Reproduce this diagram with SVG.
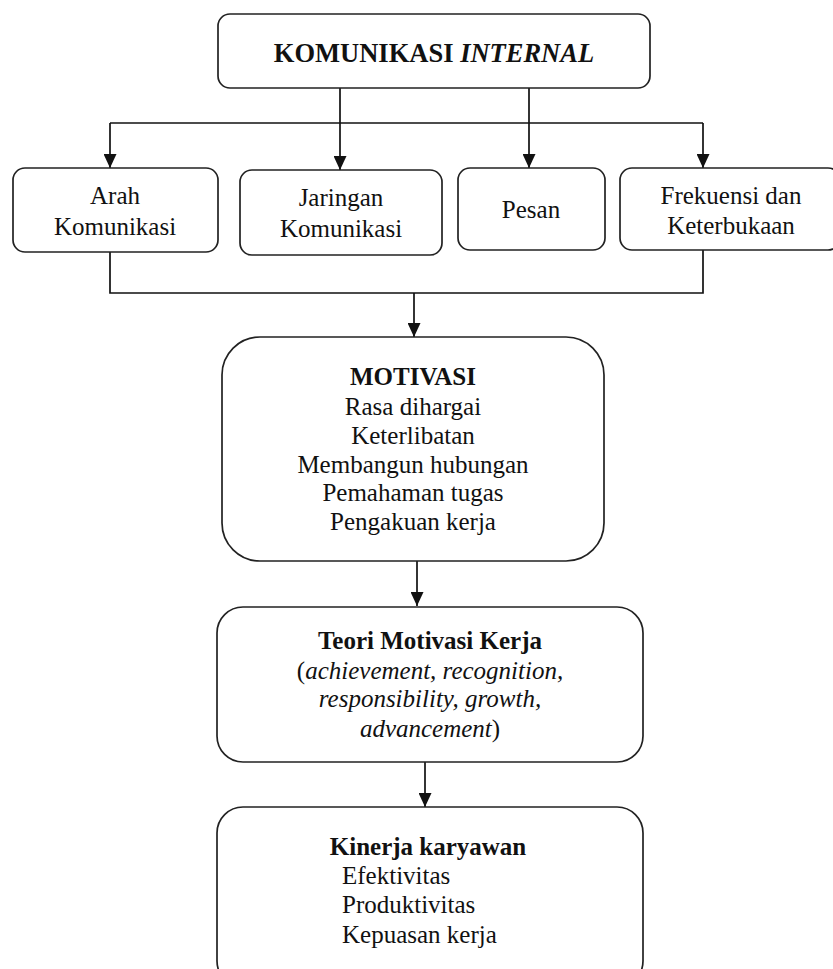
<svg xmlns="http://www.w3.org/2000/svg" width="833" height="969" viewBox="0 0 833 969">
<style>
.box{fill:#fff;stroke:#222;stroke-width:1.7}
.ln{fill:none;stroke:#111;stroke-width:1.7}
text{font-family:"Liberation Serif","Times New Roman",serif;font-size:25px;fill:#111;text-anchor:middle}
.b{font-weight:bold}
.i{font-style:italic}
.l{text-anchor:start}
.t{font-size:26.5px}
</style>
<defs>
<marker id="ad" markerUnits="userSpaceOnUse" markerWidth="14" markerHeight="13" refX="14" refY="6.5" orient="auto" viewBox="0 0 14 13">
<path d="M0,0 L14,6.5 L0,13 Z" fill="#111"/>
</marker>
</defs>
<rect width="833" height="969" fill="#fff"/>
<g id="connectors">
<path class="ln" d="M340,88 V170" marker-end="url(#ad)"/>
<path class="ln" d="M529,88 V168" marker-end="url(#ad)"/>
<path class="ln" d="M110,123 H703"/>
<path class="ln" d="M110,123 V168" marker-end="url(#ad)"/>
<path class="ln" d="M703,123 V168" marker-end="url(#ad)"/>
<path class="ln" d="M110,252 V293 H703 V250"/>
<path class="ln" d="M414,293 V337" marker-end="url(#ad)"/>
<path class="ln" d="M417,561 V606" marker-end="url(#ad)"/>
<path class="ln" d="M425,762 V807" marker-end="url(#ad)"/>
</g>
<g id="komunikasi">
<rect class="box" x="218" y="14" width="432" height="74" rx="12"/>
<text x="434" y="62" class="b t">KOMUNIKASI <tspan class="i">INTERNAL</tspan></text>
</g>
<g id="arah">
<rect class="box" x="13" y="168" width="205" height="84" rx="12"/>
<text x="115" y="204">Arah</text>
<text x="115" y="235">Komunikasi</text>
</g>
<g id="jaringan">
<rect class="box" x="240" y="170" width="202" height="85" rx="12"/>
<text x="341" y="206">Jaringan</text>
<text x="341" y="237">Komunikasi</text>
</g>
<g id="pesan">
<rect class="box" x="458" y="168" width="147" height="82" rx="12"/>
<text x="531" y="218">Pesan</text>
</g>
<g id="frekuensi">
<rect class="box" x="620" y="168" width="220" height="82" rx="12"/>
<text x="731" y="204">Frekuensi dan</text>
<text x="731" y="234">Keterbukaan</text>
</g>
<g id="motivasi">
<rect class="box" x="222" y="337" width="382" height="224" rx="38"/>
<text x="413" y="385" class="b">MOTIVASI</text>
<text x="413" y="415">Rasa dihargai</text>
<text x="413" y="444">Keterlibatan</text>
<text x="413" y="473">Membangun hubungan</text>
<text x="413" y="501">Pemahaman tugas</text>
<text x="413" y="530">Pengakuan kerja</text>
</g>
<g id="teori">
<rect class="box" x="217" y="607" width="426" height="155" rx="26"/>
<text x="430" y="649" class="b">Teori Motivasi Kerja</text>
<text x="430" y="679">(<tspan class="i">achievement, recognition,</tspan></text>
<text x="430" y="707" class="i">responsibility, growth,</text>
<text x="430" y="737"><tspan class="i">advancement</tspan>)</text>
</g>
<g id="kinerja">
<rect class="box" x="217" y="807" width="426" height="180" rx="26"/>
<text x="428" y="855" class="b">Kinerja karyawan</text>
<text x="342" y="884" class="l">Efektivitas</text>
<text x="342" y="913" class="l">Produktivitas</text>
<text x="342" y="943" class="l">Kepuasan kerja</text>
</g>
</svg>
